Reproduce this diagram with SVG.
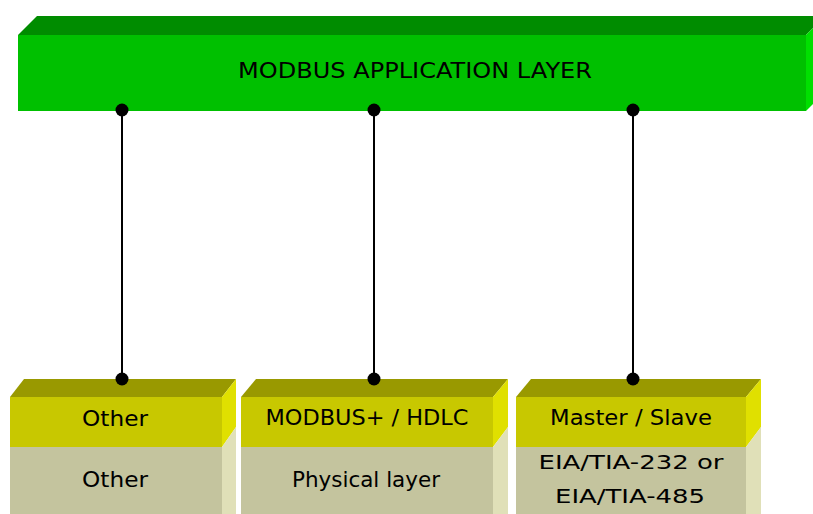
<svg xmlns="http://www.w3.org/2000/svg" width="813" height="514" viewBox="0 0 813 514">
<style>
.gf{fill:#00c000}.gt{fill:#008c00}.gs{fill:#00e000}
.yf{fill:#c8c800}.yt{fill:#999900}.ys{fill:#e0e000}
.pf{fill:#c4c49e}.ps{fill:#e0e0b8}
.t{font-family:"DejaVu Sans","Liberation Sans",sans-serif;fill:#000;text-anchor:middle}
.lbl{font-size:21px}
.wire{stroke:#000;stroke-width:2}
</style>
<rect width="813" height="514" fill="#fff"/>
<g id="app-layer">
<polygon class="gt" points="18,35 37,16 825,16 806,35"/>
<polygon class="gs" points="806,35 825,16 825,92 806,111"/>
<rect class="gf" x="18" y="35" width="788" height="76"/>
<text class="t" x="415" y="78" font-size="22" textLength="354" lengthAdjust="spacingAndGlyphs">MODBUS APPLICATION LAYER</text>
</g>
<g id="box-other">
<polygon class="yt" points="10,397 24,379 236,379 222,397"/>
<polygon class="ys" points="222,397 236,379 236,427 222,447"/>
<polygon class="ps" points="222,447 236,427 236,514 222,514"/>
<rect class="yf" x="10" y="397" width="212" height="50"/>
<rect class="pf" x="10" y="447" width="212" height="67"/>
<text class="t lbl" x="115" y="426" textLength="66" lengthAdjust="spacingAndGlyphs">Other</text>
<text class="t lbl" x="115" y="487" textLength="66" lengthAdjust="spacingAndGlyphs">Other</text>
</g>
<g id="box-hdlc">
<polygon class="yt" points="241,397 256,379 508,379 493,397"/>
<polygon class="ys" points="493,397 508,379 508,427 493,447"/>
<polygon class="ps" points="493,447 508,427 508,514 493,514"/>
<rect class="yf" x="241" y="397" width="252" height="50"/>
<rect class="pf" x="241" y="447" width="252" height="67"/>
<text class="t lbl" x="367" y="425" textLength="203" lengthAdjust="spacingAndGlyphs">MODBUS+ / HDLC</text>
<text class="t lbl" x="366" y="487" textLength="148" lengthAdjust="spacingAndGlyphs">Physical layer</text>
</g>
<g id="box-serial">
<polygon class="yt" points="516,397 531,379 761,379 746,397"/>
<polygon class="ys" points="746,397 761,379 761,427 746,447"/>
<polygon class="ps" points="746,447 761,427 761,514 746,514"/>
<rect class="yf" x="516" y="397" width="230" height="50"/>
<rect class="pf" x="516" y="447" width="230" height="67"/>
<text class="t lbl" x="631" y="425" textLength="162" lengthAdjust="spacingAndGlyphs">Master / Slave</text>
<text class="t" font-size="20" x="631" y="469" textLength="185" lengthAdjust="spacingAndGlyphs">EIA/TIA-232 or</text>
<text class="t" font-size="20" x="630" y="503" textLength="150" lengthAdjust="spacingAndGlyphs">EIA/TIA-485</text>
</g>
<g id="connectors">
<line class="wire" x1="122" y1="110" x2="122" y2="379"/>
<line class="wire" x1="374" y1="110" x2="374" y2="379"/>
<line class="wire" x1="633" y1="110" x2="633" y2="379"/>
<circle cx="122" cy="110" r="6.5"/><circle cx="374" cy="110" r="6.5"/><circle cx="633" cy="110" r="6.5"/>
<circle cx="122" cy="379" r="6.5"/><circle cx="374" cy="379" r="6.5"/><circle cx="633" cy="379" r="6.5"/>
</g>
</svg>
